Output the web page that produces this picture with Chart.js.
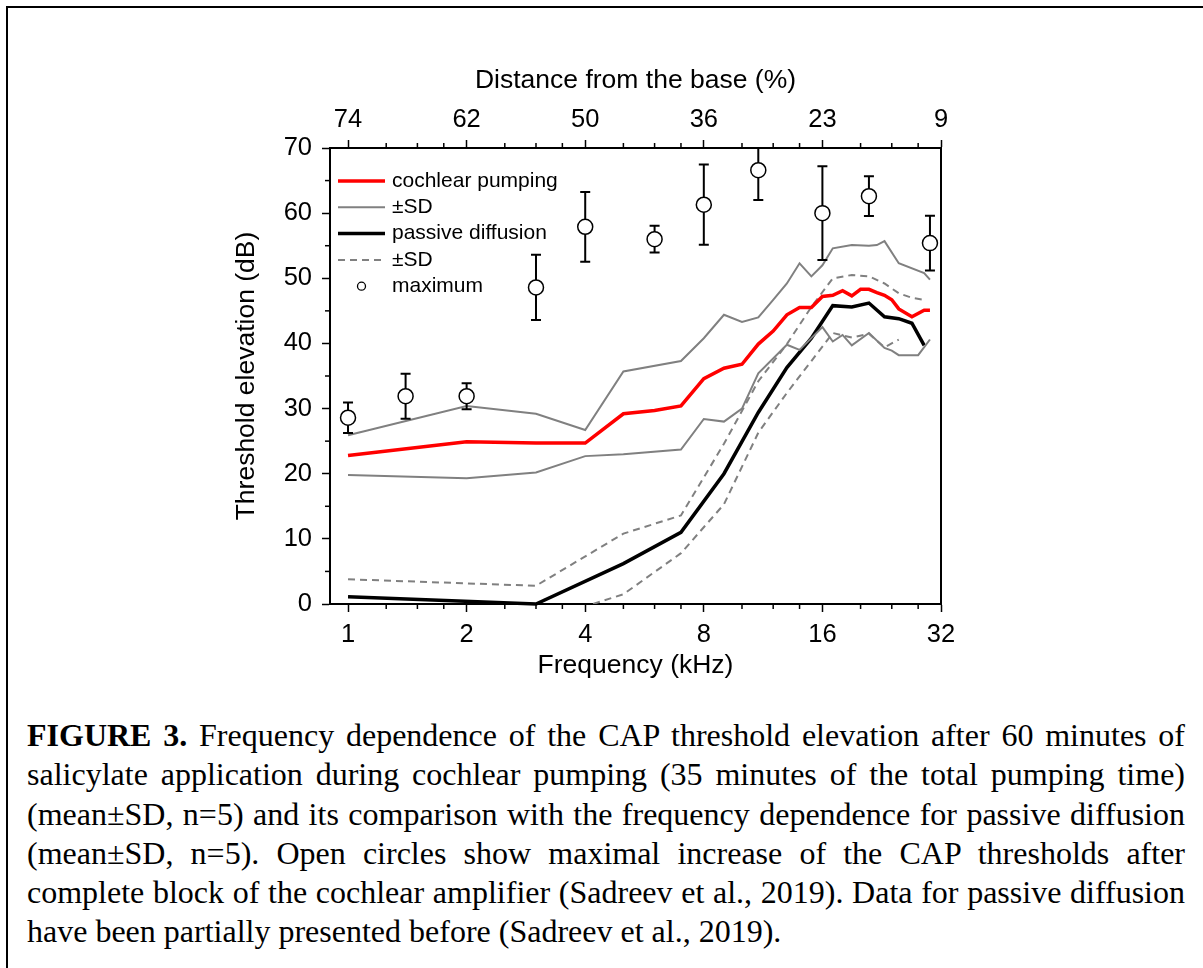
<!DOCTYPE html>
<html lang="en">
<head>
<meta charset="UTF-8">
<title>Figure 3</title>
<script src="https://cdn.jsdelivr.net/npm/chart.js@4.4.1/dist/chart.umd.min.js"></script>
<style>
  html, body { margin: 0; padding: 0; background: #fff; }
  body { width: 1203px; height: 968px; position: relative; overflow: hidden; }
  .frame { position: absolute; left: 6px; top: 6px; right: -10px; bottom: -10px; border-top: 2px solid #000; border-left: 2px solid #000; }
  .chart-box { position: absolute; left: 0; top: 0; width: 1203px; height: 700px; }
  .caption { position: absolute; left: 27px; top: 716px; width: 1158px; font-family: "Liberation Serif", "Times New Roman", serif; font-size: 32px; line-height: 39.3px; color: #000; }
  .caption div { text-align: justify; text-align-last: justify; }
  .caption div.last { text-align-last: left; }
</style>
</head>
<body>
<div class="frame"></div>
<div class="chart-box"><canvas id="capChart"></canvas></div>
<div class="caption">
  <div><b>FIGURE 3.</b> Frequency dependence of the CAP threshold elevation after 60 minutes of</div>
  <div>salicylate application during cochlear pumping (35 minutes of the total pumping time)</div>
  <div>(mean±SD, n=5) and its comparison with the frequency dependence for passive diffusion</div>
  <div>(mean±SD, n=5). Open circles show maximal increase of the CAP thresholds after</div>
  <div>complete block of the cochlear amplifier (Sadreev et al., 2019). Data for passive diffusion</div>
  <div class="last">have been partially presented before (Sadreev et al., 2019).</div>
</div>
<script>
// Frequencies (kHz) of the curves, null = no point at that frequency
const freqs = [1, 2, 3, 4, 5, 6, 7, 8, 9, 10, 11, 12, 13, 14, 15, 16, 17, 18, 19, 20, 21, 22, 23, 24, 25, 26, 27, 28, 29, 30];

// Cochlear pumping: mean and ±SD
const pumpMean  = [22.8, 24.9, 24.7, 24.7, 29.2, 29.7, 30.4, 34.6, 36.2, 36.8, 39.9, 41.9, 44.4, 45.5, 45.5, 47.2, 47.4, 48.1, 47.3, 48.3, 48.3, 47.8, 47.4, 46.7, 45.3, null, 44.1, null, 45.1, 45.1];
const pumpUpper = [25.9, 30.4, 29.2, 26.7, 35.7, null, 37.3, 40.8, 44.4, 43.3, 44.0, 46.7, 49.2, 52.3, 50.3, 52.0, 54.6, null, 55.1, null, 55.0, 55.1, 55.7, null, 52.3, null, null, null, 50.8, 49.8];
const pumpLower = [19.8, 19.3, 20.2, 22.7, 23.0, null, 23.7, 28.4, 28.0, 30.0, 35.4, null, 39.8, 39.0, null, 42.5, 40.3, 41.3, 39.7, null, 41.6, null, 39.3, 38.9, 38.2, null, null, 38.2, null, 40.6];

// Passive diffusion: mean and ±SD
const diffMean  = [1.1, null, 0.0, null, 6.2, null, 11.0, null, 20.0, null, 29.4, null, 36.3, null, 40.8, null, 45.8, null, 45.6, null, 46.2, null, 44.1, null, 43.8, null, 43.1, null, 39.7, null];
const diffUpper = [3.8, null, 2.8, null, 10.8, null, 13.6, null, 24.6, null, 34.2, null, 39.9, null, 45.6, null, 50.0, null, 50.5, null, 50.3, null, 49.2, null, 47.7, null, 47.0, null, 46.7, null];
const diffLower = [null, null, -2.8, null, 1.5, null, 7.8, null, 15.3, null, 26.3, null, 32.4, null, 37.3, null, 41.6, null, 40.9, null, 41.5, null, 39.4, null, 40.6, null, null, null, null, null];

// Maximum threshold elevation (open circles) with SD
const maxFreqs = [1, 1.4, 2, 3, 4, 6, 8, 11, 16, 21, 30];
const maxMeans = [28.6, 31.9, 31.9, 48.6, 57.9, 56.0, 61.3, 66.6, 60.0, 62.6, 55.4];
const maxSD    = [2.35, 3.45, 2.0, 5.0, 5.35, 2.05, 6.15, 4.6, 7.2, 3.05, 4.2];

// Axis ticks
const freqTicks = [1, 2, 4, 8, 16, 32];
const distanceLabels = ['74', '62', '50', '36', '23', '9'];
const minorFreqTicks = [1.25, 1.5, 1.75, 2.5, 3, 3.5, 5, 6, 7, 10, 12, 14, 20, 24, 28];
const minorDbTicks = [5, 15, 25, 35, 45, 55, 65];

// Datasets shown in the legend, in order
const legendOrder = [1, 2, 4, 5, 0];

function toPoints(xs, ys) {
    return xs.map((x, i) => ({ x: x, y: ys[i] })).filter(p => p.y !== null);
}

// Error bars of the circles, drawn just under them
const errorBars = {
    id: 'errorBars',
    beforeDatasetDraw(chart, args) {
        if (args.index !== 0) return;
        const { ctx, chartArea: a, scales } = chart;
        ctx.save();
        ctx.beginPath();
        ctx.rect(a.left, a.top - 1, a.right - a.left, a.bottom - a.top + 2);
        ctx.clip();
        ctx.strokeStyle = '#000';
        ctx.lineWidth = 2;
        maxFreqs.forEach((f, i) => {
            const x = scales.x.getPixelForValue(f);
            const yHi = scales.y.getPixelForValue(maxMeans[i] + maxSD[i]);
            const yLo = scales.y.getPixelForValue(maxMeans[i] - maxSD[i]);
            ctx.beginPath();
            ctx.moveTo(x, yHi); ctx.lineTo(x, yLo);
            ctx.moveTo(x - 5, yHi); ctx.lineTo(x + 5, yHi);
            ctx.moveTo(x - 5, yLo); ctx.lineTo(x + 5, yLo);
            ctx.stroke();
        });
        ctx.restore();
    }
};

// Right frame line and minor ticks
const frameAndTicks = {
    id: 'frameAndTicks',
    afterDraw(chart) {
        const { ctx, chartArea: a, scales } = chart;
        ctx.save();
        ctx.strokeStyle = '#000';
        ctx.lineWidth = 2;
        ctx.beginPath();
        ctx.moveTo(a.right, a.top - 1);
        ctx.lineTo(a.right, a.bottom + 1);
        ctx.stroke();
        ctx.lineWidth = 1.5;
        minorFreqTicks.forEach(f => {
            const x = scales.x.getPixelForValue(f);
            ctx.beginPath();
            ctx.moveTo(x, a.bottom); ctx.lineTo(x, a.bottom + 5);
            ctx.moveTo(x, a.top); ctx.lineTo(x, a.top - 5);
            ctx.stroke();
        });
        minorDbTicks.forEach(v => {
            const y = scales.y.getPixelForValue(v);
            ctx.beginPath();
            ctx.moveTo(a.left, y); ctx.lineTo(a.left - 5, y);
            ctx.stroke();
        });
        ctx.restore();
    }
};

// Legend inside the plot, top left
const legendBox = {
    id: 'legendBox',
    afterDraw(chart) {
        const { ctx, chartArea: a } = chart;
        ctx.save();
        ctx.font = '21px "Liberation Sans", Arial, sans-serif';
        ctx.textBaseline = 'middle';
        legendOrder.forEach((di, row) => {
            const ds = chart.data.datasets[di];
            const y = a.top + 33 + row * 26.3;
            const x0 = a.left + 8;
            const x1 = a.left + 55;
            if (ds.showLine === false) {
                ctx.beginPath();
                ctx.arc((x0 + x1) / 2, y, 4, 0, Math.PI * 2);
                ctx.fillStyle = '#fff';
                ctx.fill();
                ctx.strokeStyle = '#000';
                ctx.lineWidth = 1.3;
                ctx.stroke();
            } else {
                ctx.beginPath();
                ctx.setLineDash(ds.borderDash || []);
                ctx.strokeStyle = ds.borderColor;
                ctx.lineWidth = ds.borderWidth;
                ctx.moveTo(x0, y);
                ctx.lineTo(x1, y);
                ctx.stroke();
                ctx.setLineDash([]);
            }
            ctx.fillStyle = '#000';
            ctx.fillText(ds.label, a.left + 62, y);
        });
        ctx.restore();
    }
};

Chart.defaults.font.family = '"Liberation Sans", Arial, sans-serif';
Chart.defaults.color = '#000';

const tickFont = { size: 25.5 };
const titleFont = { size: 26.5 };
const tickGrid = { drawOnChartArea: false, tickLength: 8, tickWidth: 1.5, tickColor: '#000' };

const capCtx = document.getElementById('capChart').getContext('2d');
const capChart = new Chart(capCtx, {
    type: 'line',
    data: {
        datasets: [
            {
                type: 'scatter',
                label: 'maximum',
                data: toPoints(maxFreqs, maxMeans),
                showLine: false,
                pointRadius: 7.5,
                pointBackgroundColor: '#fff',
                pointBorderColor: '#000',
                pointBorderWidth: 1.5,
                clip: false
            },
            { label: 'cochlear pumping', data: toPoints(freqs, pumpMean), borderColor: '#ff0000', borderWidth: 3.5 },
            { label: '±SD', data: toPoints(freqs, pumpUpper), borderColor: '#808080', borderWidth: 2 },
            { label: '±SD', data: toPoints(freqs, pumpLower), borderColor: '#808080', borderWidth: 2 },
            { label: 'passive diffusion', data: toPoints(freqs, diffMean), borderColor: '#000', borderWidth: 3.5,
              clip: { left: 0, top: 0, right: 0, bottom: 2 } },
            { label: '±SD', data: toPoints(freqs, diffUpper), borderColor: '#808080', borderWidth: 2, borderDash: [7, 5] },
            { label: '±SD', data: toPoints(freqs, diffLower), borderColor: '#808080', borderWidth: 2, borderDash: [7, 5] }
        ]
    },
    options: {
        responsive: true,
        maintainAspectRatio: false,
        animation: false,
        layout: { padding: { left: 200, right: 262, top: 40, bottom: 16 } },
        elements: { point: { radius: 0 }, line: { tension: 0, fill: false } },
        plugins: { legend: { display: false }, tooltip: { enabled: false } },
        scales: {
            x: {
                type: 'logarithmic',
                position: 'bottom',
                min: 0.9,
                max: 32,
                afterBuildTicks: scale => { scale.ticks = freqTicks.map(v => ({ value: v })); },
                afterFit: scale => { scale.height = 80; },
                ticks: { callback: v => String(v), autoSkip: false, maxRotation: 0, padding: 8, font: tickFont },
                grid: tickGrid,
                border: { color: '#000', width: 2 },
                title: { display: true, text: 'Frequency (kHz)', font: titleFont, padding: 2 }
            },
            x2: {
                type: 'logarithmic',
                position: 'top',
                min: 0.9,
                max: 32,
                afterBuildTicks: scale => { scale.ticks = freqTicks.map(v => ({ value: v })); },
                afterFit: scale => { scale.height = 108; },
                ticks: { callback: (v, i) => distanceLabels[i], autoSkip: false, maxRotation: 0, padding: 5, font: tickFont },
                grid: tickGrid,
                border: { color: '#000', width: 2 },
                title: { display: true, text: 'Distance from the base (%)', font: titleFont, padding: 25 }
            },
            y: {
                min: 0,
                max: 70,
                afterFit: scale => { scale.width = 130; },
                ticks: { stepSize: 10, padding: 10, font: tickFont },
                grid: tickGrid,
                border: { color: '#000', width: 2 },
                title: { display: true, text: 'Threshold elevation (dB)', font: titleFont, padding: 31 }
            }
        }
    },
    plugins: [errorBars, frameAndTicks, legendBox]
});
</script>
</body>
</html>
